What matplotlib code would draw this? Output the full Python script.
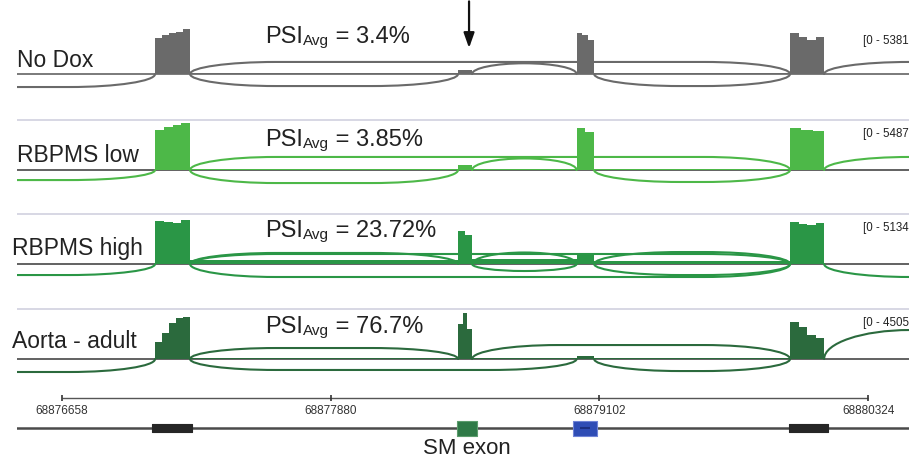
import numpy as np
import matplotlib
matplotlib.use('Agg')
import matplotlib.pyplot as plt
from matplotlib.path import Path
from matplotlib.patches import PathPatch

plt.rcParams['font.family'] = ['Liberation Sans', 'DejaVu Sans']

# ---------------- data ----------------
view_start, view_end = 68876453, 68880510
ruler_ticks = [68876658, 68877880, 68879102, 68880324]
ruler_labels = ['68876658', '68877880', '68879102', '68880324']

exon_names = ['E1', 'SM', 'E3', 'E4']
exon_starts = [68877081, 68878459, 68878998, 68879969]
exon_ends = [68877240, 68878523, 68879078, 68880124]
upstream_exon_end = 68875800
downstream_exon_start = 68881000

track_names = ['No Dox', 'RBPMS low', 'RBPMS high', 'Aorta - adult']
track_max = [5381, 5487, 5134, 4505]
psi_avg = ['3.4', '3.85', '23.72', '76.7']
track_colors = ['#6a6a6a', '#4db848', '#2a9646', '#2b6a3d']

# exon coverage (reads), sub-bins from left to right within each exon
cov_nodox = [[4040, 4370, 4600, 4710, 5040], [400], [4600, 4370, 3810], [4600, 4150, 3810, 4150]]
cov_low = [[4570, 4910, 5140, 5370], [570], [4800, 4340], [4800, 4570, 4460]]
cov_high = [[4600, 4500, 4400, 4700], [3530, 3100], [1230], [4490, 4280, 4170, 4390]]
cov_aorta = [[1600, 2440, 3380, 3850, 3940], [3300, 4320, 2800], [280], [3470, 3000, 2250, 1970]]
coverages = [cov_nodox, cov_low, cov_high, cov_aorta]

# intronic coverage (E1-SM, SM-E3, E3-E4)
intron_nodox = [90, 60, 70]
intron_low = [110, 60, 60]
intron_high = [480, 560, 340]
intron_aorta = [110, 80, 70]
intron_covs = [intron_nodox, intron_low, intron_high, intron_aorta]

# junctions: (from, to, depth, side)  side +1 above, -1 below
junc_nodox = [('up', 'E1', 1460, -1), ('E1', 'SM', 1350, -1), ('E1', 'E4', 1350, 1),
              ('SM', 'E3', 1200, 1), ('E3', 'E4', 1350, -1), ('E4', 'down', 1350, 1)]
junc_low = [('up', 'E1', 1150, -1), ('E1', 'SM', 1490, -1), ('E1', 'E4', 1490, 1),
            ('SM', 'E3', 1320, 1), ('E3', 'E4', 1370, -1), ('E4', 'down', 1490, 1)]
junc_high = [('up', 'E1', 1180, -1), ('E1', 'SM', 1180, 1), ('SM', 'E3', 1230, 1),
             ('E3', 'E4', 1280, 1), ('E1', 'E4', 1070, 1), ('E1', 'E4', 1390, -1),
             ('SM', 'E3', 750, -1), ('E3', 'E4', 1180, -1), ('E4', 'down', 1390, -1)]
junc_aorta = [('up', 'E1', 1220, -1), ('E1', 'SM', 1030, 1), ('SM', 'E4', 1310, 1),
              ('E1', 'E3', 1030, -1), ('E3', 'E4', 1130, -1), ('E4', 'down', 2720, 1)]
junctions = [junc_nodox, junc_low, junc_high, junc_aorta]

gene_exon_starts = [68877067, 68878455, 68878982, 68879965]
gene_exon_ends = [68877249, 68878546, 68879091, 68880142]
sm_exon_index = 1
arrow_pos = 68878509

# ---------------- layout ----------------
W, H = 909, 462
fig = plt.figure(figsize=(W / 100, H / 100), dpi=100)
fig.patch.set_facecolor('white')

X0 = 17  # left pixel of tracks


def px_axes(x0, y0, x1, y1):
    return fig.add_axes([x0 / W, 1 - y1 / H, (x1 - x0) / W, (y1 - y0) / H])


baselines = [74, 170, 264, 359]
above_px, below_px, pad_top = 48, 34, 8
label_x_px = [17, 17, 12, 12]
label_up_px = [7, 8, 9, 11]
psi_up_px = [31, 24, 27, 26]
range_up_px = [33, 36, 36, 36]
R_BP = 390  # arc corner width (bp)
TXT = '#222222'

exon_lookup_end = dict(zip(exon_names, exon_ends))
exon_lookup_start = dict(zip(exon_names, exon_starts))
exon_lookup_end['up'] = upstream_exon_end
exon_lookup_start['down'] = downstream_exon_start


def arc_patch(a, b, h, color, lw):
    r = min(R_BP, (b - a) / 2.0)
    k = 0.5523
    verts = [(a, 0), (a, k * h), (a + r - k * r, h), (a + r, h),
             (b - r, h), (b - r + k * r, h), (b, k * h), (b, 0)]
    codes = [Path.MOVETO, Path.CURVE4, Path.CURVE4, Path.CURVE4,
             Path.LINETO, Path.CURVE4, Path.CURVE4, Path.CURVE4]
    return PathPatch(Path(verts, codes), fill=False, edgecolor=color, lw=lw,
                     zorder=2, capstyle='round')


axes = []
for i in range(4):
    base = baselines[i]
    M = track_max[i]
    unit = M / above_px
    ax = px_axes(X0, base - above_px - pad_top, W, base + below_px)
    ax.set_xlim(view_start, view_end)
    ax.set_ylim(-below_px * unit, (above_px + pad_top) * unit)
    ax.set_axis_off()
    axes.append(ax)
    c = track_colors[i]

    # separator line at top of track
    if i > 0:
        ax.axhline(M + 2 * unit, color='#d4d4e2', lw=1.3, zorder=0)
    # baseline
    ax.axhline(0, color='#707070' if i == 0 else '#555555', lw=1.3, zorder=1)

    # intronic coverage
    for j in range(3):
        a = exon_ends[j]
        b = exon_starts[j + 1]
        ax.bar(a, intron_covs[i][j], width=b - a, align='edge', color=c,
               linewidth=0, zorder=1.5)

    # junction arcs
    for (fr, to, depth, side) in junctions[i]:
        a = exon_lookup_end[fr]
        b = exon_lookup_start[to]
        ax.add_patch(arc_patch(a, b, side * depth, c, 1.5))

    # exon coverage
    for j, vals in enumerate(coverages[i]):
        edges = np.linspace(exon_starts[j], exon_ends[j], len(vals) + 1)
        ax.bar(edges[:-1], vals, width=np.diff(edges), align='edge', color=c,
               linewidth=0, zorder=3)

    # texts
    ytr = ax.get_yaxis_transform()
    ax.text((label_x_px[i] - X0) / (W - X0), label_up_px[i] * unit, track_names[i],
            transform=ytr, ha='left', va='baseline',
            fontsize=16.5, color=TXT, zorder=5)
    t1 = ax.text((265 - X0) / (W - X0), psi_up_px[i] * unit, 'PSI',
                 transform=ytr, ha='left', va='baseline',
                 fontsize=17, color=TXT, zorder=5)
    t2 = ax.annotate('Avg', xy=(1, 0), xycoords=t1, ha='left', va='bottom',
                     fontsize=11, color=TXT, zorder=5)
    ax.annotate(' = ' + psi_avg[i] + '%', xy=(1, 0), xycoords=t2, ha='left', va='bottom',
                fontsize=17, color=TXT, zorder=5)
    ax.text((863 - X0) / (W - X0), range_up_px[i] * unit, '[0 - %d' % M,
            transform=ytr, ha='left', va='center',
            fontsize=8.3, color=TXT, zorder=5)

# arrow pointing at the SM exon
ax0 = axes[0]
unit0 = track_max[0] / above_px
ax0.annotate('', xy=(arrow_pos, 26 * unit0), xycoords='data',
             xytext=(arrow_pos, 0.997), textcoords=('data', 'figure fraction'),
             arrowprops=dict(arrowstyle='-|>,head_length=0.9,head_width=0.32',
                             color='#111111', lw=1.6, shrinkA=0, shrinkB=0),
             annotation_clip=False)

# ---------------- ruler + gene model ----------------
axg = px_axes(X0, 385, W, H)
axg.set_xlim(view_start, view_end)
axg.set_ylim(H, 385)
axg.set_axis_off()

axg.hlines(398, ruler_ticks[0], ruler_ticks[-1], color='#555555', lw=1.0)
axg.vlines(ruler_ticks, 395, 401, color='#333333', lw=1.2)
for t, lab in zip(ruler_ticks, ruler_labels):
    axg.text(t, 411, lab, ha='center', va='center', fontsize=8.5, color='#333333')

axg.axhline(428, color='#4a4a4a', lw=1.8, zorder=1)
gene_colors = ['#262626', '#2f7a47', '#2f4db5', '#262626']
gene_edges = ['#262626', '#5c9c6c', '#6f83d6', '#262626']
gene_half_h = [4, 7.5, 7.5, 4]
for j in range(4):
    s, e = gene_exon_starts[j], gene_exon_ends[j]
    axg.broken_barh([(s, e - s)], (428 - gene_half_h[j], 2 * gene_half_h[j]),
                    facecolors=gene_colors[j], edgecolors=gene_edges[j], lw=0.8, zorder=2)
# strand mark inside blue exon
bs, be = gene_exon_starts[2], gene_exon_ends[2]
axg.hlines(428, bs + (be - bs) * 0.3, be - (be - bs) * 0.3, color='#1c2f80', lw=1.5, zorder=3)

sm_center = (gene_exon_starts[sm_exon_index] + gene_exon_ends[sm_exon_index]) / 2
axg.text(sm_center, 449, 'SM exon', ha='center', va='center', fontsize=16, color=TXT)

fig.savefig('out.png', dpi=100, facecolor='white')
